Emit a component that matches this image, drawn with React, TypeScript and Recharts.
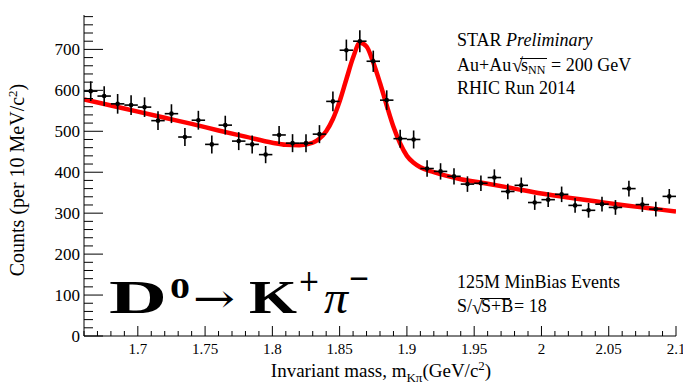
import React from "react";
import { ComposedChart, ErrorBar, Line, Scatter, XAxis, YAxis } from "recharts";

// D0 -> K pi invariant mass histogram (bin centres, 10 MeV bins)
const massBins = [
  1.665, 1.675, 1.685, 1.695, 1.705, 1.715, 1.725, 1.735, 1.745, 1.755, 1.765,
  1.775, 1.785, 1.795, 1.805, 1.815, 1.825, 1.835, 1.845, 1.855, 1.865, 1.875,
  1.885, 1.895, 1.905, 1.915, 1.925, 1.935, 1.945, 1.955, 1.965, 1.975, 1.985,
  1.995, 2.005, 2.015, 2.025, 2.035, 2.045, 2.055, 2.065, 2.075, 2.085, 2.095,
];
const counts = [
  598, 586, 567, 564, 559, 526, 543, 486, 527, 468, 515,
  476, 468, 443, 491, 471, 471, 493, 573, 698, 720, 671,
  576, 482, 480, 409, 402, 390, 371, 373, 387, 353, 368,
  326, 333, 346, 319, 307, 322, 314, 360, 321, 310, 341,
];
const countErrors = [
  24, 24, 24, 24, 24, 23, 23, 22, 23, 22, 23,
  22, 22, 21, 22, 22, 22, 22, 24, 26, 27, 26,
  24, 22, 22, 20, 20, 20, 19, 19, 20, 19, 19,
  18, 18, 19, 18, 18, 18, 18, 19, 18, 18, 18,
];
const binHalfWidth = 0.005;

// fit curve
const fitMass = [
  1.66, 1.68, 1.7, 1.72, 1.74, 1.76, 1.78, 1.8, 1.81, 1.82, 1.83, 1.835, 1.84,
  1.845, 1.85, 1.855, 1.86, 1.865, 1.87, 1.875, 1.88, 1.885, 1.89, 1.895, 1.9,
  1.905, 1.91, 1.92, 1.94, 1.96, 1.98, 2.0, 2.02, 2.04, 2.06, 2.08, 2.1,
];
const fitCounts = [
  578, 563, 548, 533, 518, 502, 487, 472, 467, 466, 472, 482, 500,
  530, 573, 627, 680, 716, 707, 668, 618, 563, 511, 470, 440,
  423, 412, 400, 383, 372, 360, 348, 338, 329, 320, 312, 304,
];

const xTicks = [
  1.66, 1.67, 1.68, 1.69, 1.7, 1.71, 1.72, 1.73, 1.74, 1.75, 1.76, 1.77, 1.78,
  1.79, 1.8, 1.81, 1.82, 1.83, 1.84, 1.85, 1.86, 1.87, 1.88, 1.89, 1.9, 1.91,
  1.92, 1.93, 1.94, 1.95, 1.96, 1.97, 1.98, 1.99, 2.0, 2.01, 2.02, 2.03, 2.04,
  2.05, 2.06, 2.07, 2.08, 2.09, 2.1,
];
const yTicks = [
  0, 20, 40, 60, 80, 100, 120, 140, 160, 180, 200, 220, 240, 260, 280, 300,
  320, 340, 360, 380, 400, 420, 440, 460, 480, 500, 520, 540, 560, 580, 600,
  620, 640, 660, 680, 700, 720, 740, 760, 780,
];

const serif = "'Liberation Serif', 'Times New Roman', serif";

const isMajorX = (v: number) => Math.round(v * 100) % 5 === 0;
const isMajorY = (v: number) => v % 100 === 0;
const fmtX = (v: number) => String(Number(v.toFixed(2)));

function LeftTick(props: any) {
  const { x, y, payload } = props;
  const major = isMajorY(payload.value);
  return (
    <g>
      <line x1={x} x2={x + (major ? 19 : 9)} y1={y} y2={y} stroke="#000" />
      {major && (
        <text x={x - 4} y={y + 6} textAnchor="end" fontSize={17} fontFamily={serif} fill="#000">
          {payload.value}
        </text>
      )}
    </g>
  );
}

function RightTick(props: any) {
  const { x, y, payload } = props;
  const major = isMajorY(payload.value);
  return <line x1={x} x2={x - (major ? 19 : 9)} y1={y} y2={y} stroke="#000" />;
}

function BottomTick(props: any) {
  const { x, y, payload } = props;
  const major = isMajorX(payload.value);
  return (
    <g>
      <line x1={x} x2={x} y1={y} y2={y - (major ? 10 : 5)} stroke="#000" />
      {major && (
        <text x={x} y={y + 18} textAnchor="middle" fontSize={15} fontFamily={serif} fill="#000">
          {fmtX(payload.value)}
        </text>
      )}
    </g>
  );
}

function TopTick(props: any) {
  const { x, y, payload } = props;
  const major = isMajorX(payload.value);
  return <line x1={x} x2={x} y1={y} y2={y + (major ? 10 : 5)} stroke="#000" />;
}

export default function App() {
  const points = massBins.map((m, i) => ({
    m,
    n: counts[i],
    ey: countErrors[i],
    ex: binHalfWidth,
  }));
  const fit = fitMass.map((m, i) => ({ m, n: fitCounts[i] }));

  return (
    <div style={{ position: "absolute", left: 0, top: 0, width: 683, height: 386, background: "#fff" }}>
      <ComposedChart width={683} height={386} margin={{ top: 15, right: 7, bottom: 0, left: 0 }}>
        <XAxis
          xAxisId="b"
          dataKey="m"
          type="number"
          domain={[1.66, 2.1]}
          allowDataOverflow
          ticks={xTicks}
          interval={0}
          tick={<BottomTick />}
          tickLine={false}
          tickSize={0}
          tickMargin={0}
          height={50}
          axisLine={{ stroke: "#000" }}
        />
        <XAxis
          xAxisId="t"
          orientation="top"
          dataKey="m"
          type="number"
          domain={[1.66, 2.1]}
          allowDataOverflow
          ticks={xTicks}
          interval={0}
          tick={<TopTick />}
          tickLine={false}
          tickSize={0}
          tickMargin={0}
          height={0}
          axisLine={{ stroke: "#000" }}
        />
        <YAxis
          yAxisId="l"
          dataKey="n"
          type="number"
          domain={[0, 784]}
          allowDataOverflow
          ticks={yTicks}
          interval={0}
          tick={<LeftTick />}
          tickLine={false}
          tickSize={0}
          tickMargin={0}
          width={84}
          axisLine={{ stroke: "#000" }}
        />
        <YAxis
          yAxisId="r"
          orientation="right"
          dataKey="n"
          type="number"
          domain={[0, 784]}
          allowDataOverflow
          ticks={yTicks}
          interval={0}
          tick={<RightTick />}
          tickLine={false}
          tickSize={0}
          tickMargin={0}
          width={0}
          axisLine={{ stroke: "#000" }}
        />
        <Line
          xAxisId="b"
          yAxisId="l"
          data={fit}
          dataKey="n"
          type="monotone"
          stroke="#ff0000"
          strokeWidth={4.5}
          dot={false}
          activeDot={false}
          isAnimationActive={false}
        />
        <Scatter
          xAxisId="b"
          yAxisId="l"
          data={points}
          dataKey="n"
          isAnimationActive={false}
          shape={(p: any) => <circle cx={p.cx} cy={p.cy} r={2.3} fill="#000" />}
        >
          <ErrorBar dataKey="ey" direction="y" width={0} stroke="#000" strokeWidth={1.6} isAnimationActive={false} />
          <ErrorBar dataKey="ex" direction="x" width={0} stroke="#000" strokeWidth={1.6} isAnimationActive={false} />
        </Scatter>
      </ComposedChart>

      <svg
        width={683}
        height={386}
        style={{ position: "absolute", left: 0, top: 0, pointerEvents: "none" }}
        fontFamily={serif}
        fill="#000"
      >
        {/* axis titles */}
        <text transform="rotate(-90)" x={-180} y={24} textAnchor="middle" fontSize={20}>
          Counts (per 10 MeV/c<tspan dy={-7} fontSize={13}>2</tspan>
          <tspan dy={7}>)</tspan>
        </text>
        <text x={381} y={377} textAnchor="middle" fontSize={19}>
          Invariant mass, m<tspan dy={5} fontSize={13}>Kπ</tspan>
          <tspan dy={-5}>(GeV/c</tspan>
          <tspan dy={-7} fontSize={13}>2</tspan>
          <tspan dy={7}>)</tspan>
        </text>

        {/* STAR labels */}
        <text x={457} y={46} fontSize={18}>
          STAR <tspan fontStyle="italic">Preliminary</tspan>
        </text>
        <text x={457} y={70.5} fontSize={18}>
          Au+Au
          <tspan x={512} dy={1.5} fontSize={20}>√</tspan>
          <tspan x={521} dy={-1.5}>s</tspan>
          <tspan dy={3} fontSize={12}>NN</tspan>
          <tspan x={551} dy={-3}>= 200 GeV</tspan>
        </text>
        <line x1={520} x2={547} y1={58.5} y2={58.5} stroke="#000" strokeWidth={1} />
        <text x={457} y={94} fontSize={18}>RHIC Run 2014</text>

        <text x={457} y={288} fontSize={18}>125M MinBias Events</text>
        <text x={457} y={312} fontSize={18}>
          S/
          <tspan x={472} dy={1.5} fontSize={20}>√</tspan>
          <tspan x={481} dy={-1.5}>S+B</tspan>
          <tspan x={514}>= 18</tspan>
        </text>
        <line x1={480} x2={510} y1={298.5} y2={298.5} stroke="#000" strokeWidth={1} />

        {/* decay channel */}
        <text x={109} y={312.7} fontSize={46} fontWeight="bold" textLength={58} lengthAdjust="spacingAndGlyphs">D</text>
        <text x={170} y={298} fontSize={30} fontWeight="bold" textLength={20} lengthAdjust="spacingAndGlyphs">0</text>
        <text x={193} y={312} fontSize={40} fontFamily="'DejaVu Serif', serif" textLength={42} lengthAdjust="spacingAndGlyphs">→</text>
        <text x={249} y={312.7} fontSize={46} fontWeight="bold" textLength={48} lengthAdjust="spacingAndGlyphs">K</text>
        <text x={298} y={291} fontSize={30} fontFamily="'DejaVu Serif', serif" textLength={22} lengthAdjust="spacingAndGlyphs">+</text>
        <text x={324} y={312.7} fontSize={46} fontStyle="italic" textLength={24} lengthAdjust="spacingAndGlyphs">π</text>
        <text x={348} y={288} fontSize={30} fontFamily="'DejaVu Serif', serif" textLength={22} lengthAdjust="spacingAndGlyphs">−</text>
      </svg>
    </div>
  );
}
